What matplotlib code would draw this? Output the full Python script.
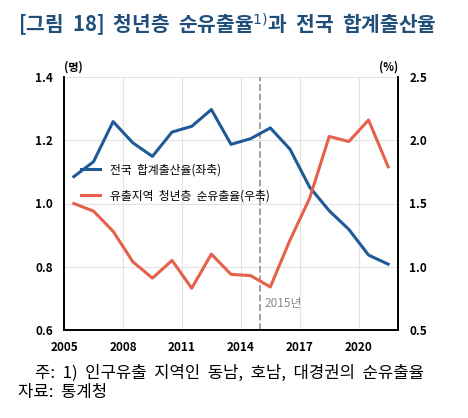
import numpy as np
import matplotlib.pyplot as plt

plt.rcParams['font.family'] = ['Noto Sans CJK KR', 'DejaVu Sans']

years = list(range(2005, 2022))
# 전국 합계출산율 (좌축, 명)
tfr = [1.085, 1.132, 1.259, 1.192, 1.149, 1.226, 1.244, 1.297, 1.187, 1.205,
       1.239, 1.172, 1.052, 0.977, 0.918, 0.837, 0.808]
# 유출지역 청년층 순유출율 (우축, %)
outflow = [1.50, 1.44, 1.28, 1.04, 0.91, 1.05, 0.83, 1.10, 0.94, 0.93,
           0.84, 1.21, 1.54, 2.03, 1.99, 2.16, 1.79]
xticks = [2005, 2008, 2011, 2014, 2017, 2020]

blue = '#1f5a96'
red = '#e5614b'

fig = plt.figure(figsize=(4.68, 4.18), dpi=100)
ax = fig.add_axes([64/468, 1-330/418, 334/468, 253/418])
ax2 = ax.twinx()

x = np.array(years) + 0.5
l1, = ax.plot(x, tfr, color=blue, lw=2.2, label='전국  합계출산율(좌축)', zorder=3)
l2, = ax2.plot(x, outflow, color=red, lw=2.2, label='유출지역  청년층  순유출율(우축)', zorder=3)

ax.set_xlim(2005, 2022)
ax.set_ylim(0.6, 1.4)
ax2.set_ylim(0.5, 2.5)
ax.set_xticks(xticks)
ax.set_yticks([0.6, 0.8, 1.0, 1.2, 1.4])
ax2.set_yticks([0.5, 1.0, 1.5, 2.0, 2.5])
ax.set_yticklabels(['0.6', '0.8', '1.0', '1.2', '1.4'])
ax2.set_yticklabels(['0.5', '1.0', '1.5', '2.0', '2.5'])

ax.grid(True, color='#e3e3e3', lw=0.8)
ax.set_axisbelow(True)
for a in (ax, ax2):
    a.spines['top'].set_visible(False)
    for s in ('left', 'right', 'bottom'):
        a.spines[s].set_color('black')
        a.spines[s].set_linewidth(1.2)
    a.tick_params(length=0, labelsize=8.5, pad=8)
    for t in a.get_xticklabels() + a.get_yticklabels():
        t.set_fontweight('bold')

ax.axvline(2015, color='#999999', ls='--', lw=1.3, zorder=2)
ax.text(2015.2, 0.685, '2015년', color='#888888', fontsize=8.5, va='center')

ax.legend(handles=[l1, l2], loc='upper left', bbox_to_anchor=(0.02, 0.70),
          frameon=False, fontsize=8.5, handlelength=1.6, labelspacing=1.1)

fig.text(64/468, 1-67/418, '(명)', fontsize=8, fontweight='bold', ha='left', va='center')
fig.text(398/468, 1-67/418, '(%)', fontsize=8, fontweight='bold', ha='right', va='center')

fig.text(18/468, 1-25/418, '[그림  18]  청년층  순유출율$^{1)}$과  전국  합계출산율',
         fontsize=14.6, fontweight='bold', color='#1f4e79', ha='left', va='center')
fig.text(35/468, 1-373/418, '주:  1)  인구유출  지역인  동남,  호남,  대경권의  순유출율',
         fontsize=12, ha='left', va='center')
fig.text(18/468, 1-393/418, '자료:  통계청', fontsize=12, ha='left', va='center')

fig.savefig('out.png', dpi=100)
